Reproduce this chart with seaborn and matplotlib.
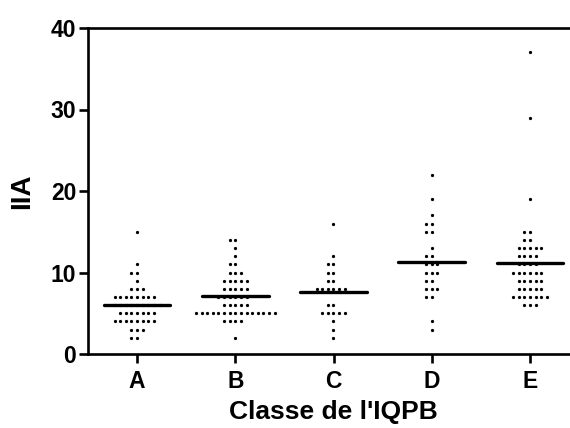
import matplotlib
matplotlib.use("Agg")
import numpy as np
import pandas as pd
import seaborn as sns
import matplotlib.pyplot as plt

classes = ["A", "B", "C", "D", "E"]

iia_A = [15, 11, 10, 10, 9, 8, 8, 8,
         7, 7, 7, 7, 7, 7, 7, 7,
         6, 6, 6, 6, 6, 6, 6, 6, 6,
         5, 5, 5, 5, 5, 5, 5,
         4, 4, 4, 4, 4, 4, 4, 4,
         3, 3, 3, 2, 2]
iia_B = [14, 14, 13, 12, 11, 11, 10, 10, 10,
         9, 9, 9, 9, 9, 8, 8, 8, 8, 8,
         7, 7, 7, 7, 7, 7, 6, 6, 6, 6, 6,
         5, 5, 5, 5, 5, 5, 5, 5, 5, 5, 5, 5, 5, 5, 5,
         4, 4, 4, 4, 2]
iia_C = [16, 12, 11, 11, 10, 10, 9, 9,
         8, 8, 8, 8, 8, 8, 6, 6,
         5, 5, 5, 5, 5, 4, 3, 2]
iia_D = [22, 19, 17, 16, 16, 15, 15, 13, 12, 12,
         11, 11, 11, 10, 10, 10, 9, 9, 8, 8, 8, 7, 7, 4, 3]
iia_E = [37, 29, 19, 15, 15, 14, 14, 13, 13, 13, 13, 13,
         12, 12, 12, 12, 11, 11, 11, 11,
         10, 10, 10, 10, 10, 10, 9, 9, 9, 9, 9,
         8, 8, 8, 8, 8, 7, 7, 7, 7, 7, 7, 7, 6, 6, 6]

yticks = [0, 10, 20, 30, 40]

df = pd.concat([
    pd.DataFrame({"classe": c, "iia": v})
    for c, v in zip(classes, [iia_A, iia_B, iia_C, iia_D, iia_E])
], ignore_index=True)

sns.set_theme(style="ticks")
plt.rcParams['font.family'] = ['Liberation Sans', 'DejaVu Sans']
plt.rcParams['text.color'] = 'black'
plt.rcParams['axes.labelcolor'] = 'black'
plt.rcParams['xtick.color'] = 'black'
plt.rcParams['ytick.color'] = 'black'

fig = plt.figure(figsize=(5.7, 4.28), dpi=100)
ax = fig.add_axes([88 / 570, 74 / 428, 491 / 570, 326 / 428])

sns.swarmplot(data=df, x="classe", y="iia", order=classes, color="black",
              size=3.1, linewidth=0.75, edgecolor="white", ax=ax,
              zorder=2, warn_thresh=1.0)

means = df.groupby("classe")["iia"].mean().reindex(classes)
for i, m in enumerate(means.values):
    ax.hlines(m, i - 0.34, i + 0.34, color="black", linewidth=2.4, zorder=5,
              capstyle="round")

ax.set_xlim(-0.5, 4.5)
ax.set_ylim(0, 40)
ax.set_yticks(yticks)
ax.set_yticklabels([str(t) for t in yticks], fontsize=16.5, fontweight="bold")
ax.set_xticks(range(len(classes)))
ax.set_xticklabels(classes, fontsize=16.5, fontweight="bold")

for s in ["left", "bottom", "top", "right"]:
    ax.spines[s].set_linewidth(1.9)
    ax.spines[s].set_color("black")
ax.tick_params(axis="y", direction="out", length=6.5, width=1.9, pad=2)
ax.tick_params(axis="x", direction="out", length=6.5, width=1.9, pad=5)

ax.set_xlabel("Classe de l'IQPB", fontsize=19, fontweight="bold", labelpad=5)
ax.set_ylabel("IIA", fontsize=20, fontweight="bold", labelpad=11)

fig.savefig("out.png", dpi=100)
